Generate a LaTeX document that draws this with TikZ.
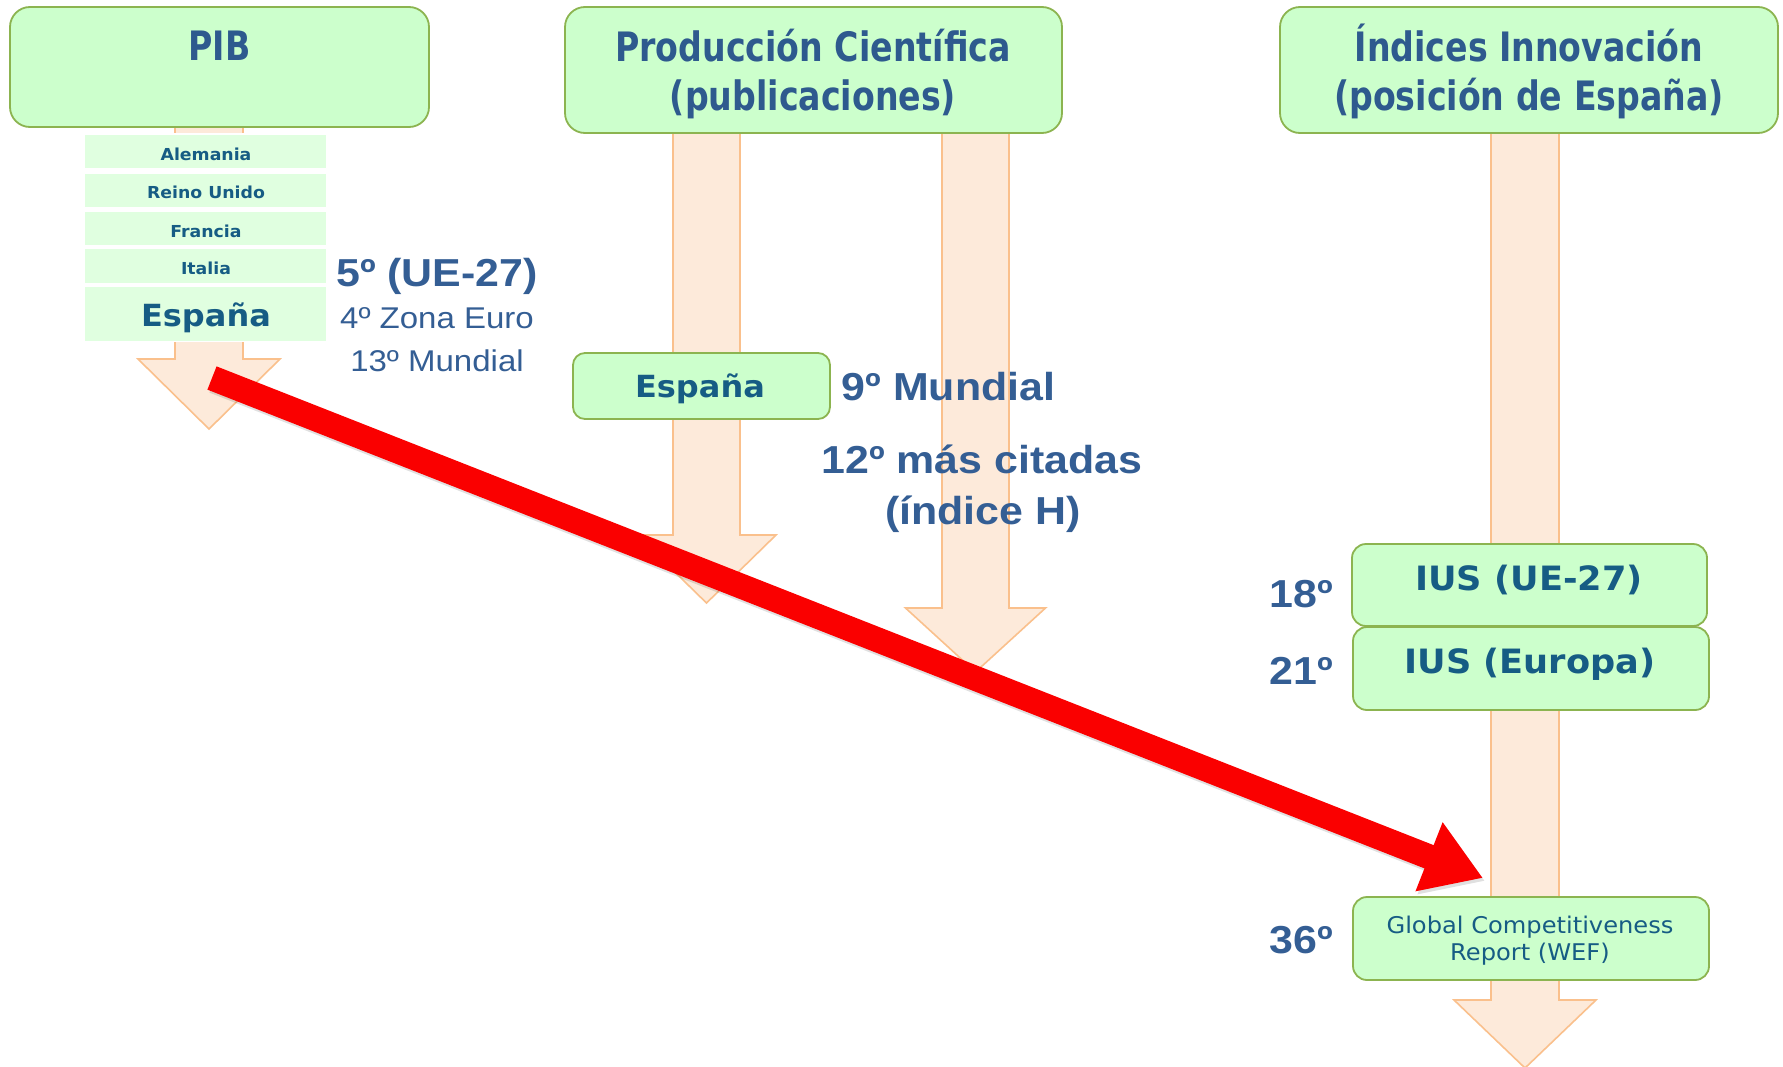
\documentclass[tikz,border=0pt]{standalone}
\usepackage{fontspec}
\setmainfont{DejaVu Sans}
\newfontfamily\ttlfont[FakeStretch=0.82]{DejaVu Sans}
\newfontfamily\vfont[FakeStretch=1.05]{DejaVu Sans}
\newfontfamily\afont[FakeStretch=1.1]{Liberation Sans}
\usetikzlibrary{arrows.meta}
\definecolor{boxfill}{RGB}{204,255,204}
\definecolor{boxline}{RGB}{140,180,80}
\definecolor{cfill}{RGB}{224,255,224}
\definecolor{peach}{RGB}{253,234,218}
\definecolor{peachline}{RGB}{250,192,140}
\definecolor{titleblue}{RGB}{46,90,142}
\definecolor{tealblue}{RGB}{22,92,132}
\definecolor{labelblue}{RGB}{52,94,148}
\definecolor{redarrow}{RGB}{250,0,0}
\newcommand\peacharrow[6]{\draw[peacharr] (#1-#2,#3) -- (#1-#2,#4) -- (#1-#5,#4) -- (#1,#6) -- (#1+#5,#4) -- (#1+#2,#4) -- (#1+#2,#3) -- cycle;}
\begin{document}
\begin{tikzpicture}[x=1bp,y=-1bp,
  peacharr/.style={draw=peachline, line width=1.6bp, fill=peach, line join=miter},
  greenbox/.style={draw=boxline, line width=1.8bp, fill=boxfill, rounded corners=20bp, inner sep=0pt},
  smallbox/.style={draw=boxline, line width=1.8bp, fill=boxfill, rounded corners=14bp, inner sep=0pt},
  ctybox/.style={draw=none, fill=cfill, inner sep=0pt, minimum width=241bp},
  ttl/.style={anchor=base, inner sep=0pt, text=titleblue, font=\ttlfont\bfseries\fontsize{40.5bp}{48bp}\selectfont},
  cty/.style={anchor=base, inner sep=0pt, text=tealblue, font=\vfont\bfseries\fontsize{16.5bp}{20bp}\selectfont},
  ctyb/.style={anchor=base, inner sep=0pt, text=tealblue, font=\vfont\bfseries\fontsize{30.5bp}{36bp}\selectfont},
  ius/.style={anchor=base, inner sep=0pt, text=tealblue, font=\vfont\bfseries\fontsize{33.5bp}{40bp}\selectfont},
  gcr/.style={anchor=base, inner sep=0pt, text=tealblue, font=\vfont\fontsize{23bp}{28bp}\selectfont},
  albl/.style={anchor=base, inner sep=0pt, text=labelblue, font=\afont\bfseries\fontsize{39bp}{46bp}\selectfont},
  albr/.style={anchor=base, inner sep=0pt, text=labelblue, font=\afont\fontsize{30bp}{36bp}\selectfont},
  redarr/.style={draw=redarrow, line width=25bp, -{Triangle[length=58bp,width=70bp]}}
]
\path[use as bounding box, clip] (0,0) rectangle (1783,1066);
\fill[white] (0,0) rectangle (1783,1066);

% peach block arrows
\peacharrow{209}{34}{120}{359}{71}{429}
\peacharrow{706.5}{33.5}{125}{535}{69.5}{603}
\peacharrow{975.5}{33.5}{125}{608}{70}{672}
\peacharrow{1525}{34}{125}{1000}{71}{1068}

% title boxes
\node[greenbox, minimum width=419bp, minimum height=120bp] (pib) at (219.5,67) {};
\node[greenbox, minimum width=497bp, minimum height=126bp] (prod) at (813.5,70) {};
\node[greenbox, minimum width=498bp, minimum height=126bp] (ind) at (1529,70) {};
\node[ttl] (pibt) at (219.5,60) {PIB};
\node[ttl] (prodt1) at (813,61) {Producción Científica};
\node[ttl] (prodt2) at (813,110) {(publicaciones)};
\node[ttl] (indt1) at (1529,61) {Índices Innovación};
\node[ttl] (indt2) at (1529,110) {(posición de España)};

% country boxes
\fill[white] (84,133) rectangle (327,342);
\node[ctybox, minimum height=33bp] (ale) at (205.5,151.5) {};
\node[ctybox, minimum height=33bp] (rei) at (205.5,190.5) {};
\node[ctybox, minimum height=33bp] (fra) at (205.5,228.5) {};
\node[ctybox, minimum height=34bp] (ita) at (205.5,266) {};
\node[ctybox, minimum height=54bp] (esp) at (205.5,314) {};
\node[cty] (alet) at (206,160) {Alemania};
\node[cty] (reit) at (206,198) {Reino Unido};
\node[cty] (frat) at (206,237) {Francia};
\node[cty] (itat) at (206,274) {Italia};
\node[ctyb] (espt) at (206,326) {España};

% PIB labels
\node[albl] (ue) at (437,286) {5º (UE-27)};
\node[albr] (ze) at (437,328) {4º Zona Euro};
\node[albr] (mu) at (437,371) {13º Mundial};

% middle column
\node[smallbox, rounded corners=12bp, minimum width=257bp, minimum height=66bp] (esp2) at (701.5,386) {};
\node[ctyb] (esp2t) at (700,397) {España};
\node[albl] (nm) at (948.5,400) {9º Mundial};
\node[albl] (mc) at (982,473) {12º más citadas};
\node[albl] (ih) at (983,524) {(índice H)};

% right column
\node[smallbox, minimum width=355bp, minimum height=82bp] (ius1) at (1529.5,585) {};
\node[smallbox, minimum width=356bp, minimum height=83bp] (ius2) at (1531,668.5) {};
\node[smallbox, minimum width=356bp, minimum height=83bp] (gcr) at (1531,938.5) {};
\node[ius] (ius1t) at (1529,590) {IUS (UE-27)};
\node[ius] (ius2t) at (1530,673) {IUS (Europa)};
\node[gcr] (gcrt1) at (1530,933) {Global Competitiveness};
\node[gcr] (gcrt2) at (1530,960) {Report (WEF)};
\node[albl] (r18) at (1301,607) {18º};
\node[albl] (r21) at (1301,684) {21º};
\node[albl] (r36) at (1301,953) {36º};

% red arrow
\coordinate (rs) at (212,378);
\coordinate (rt) at (1483,878);
\draw[redarr, draw=black, opacity=0.12, transform canvas={shift={(2,3)}}] (rs) -- (rt);
\draw[redarr] (rs) -- (rt);
\end{tikzpicture}
\end{document}
